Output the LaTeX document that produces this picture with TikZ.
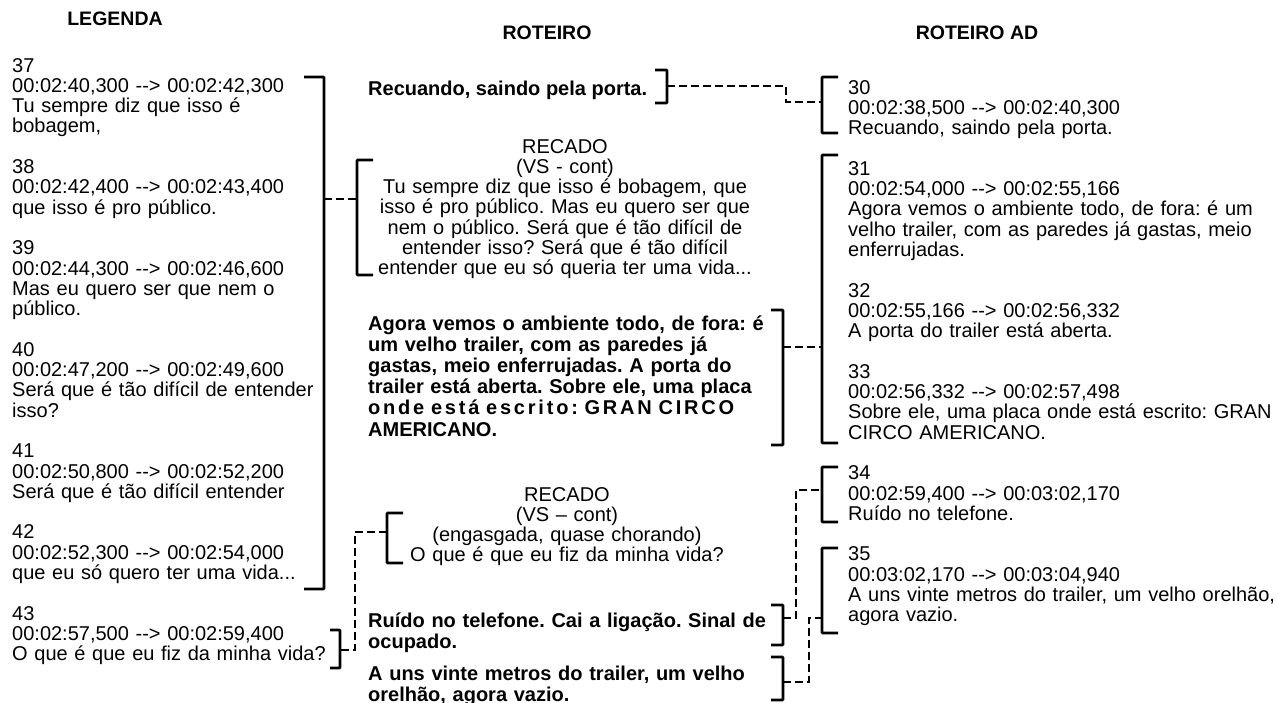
\documentclass[tikz,border=0pt]{standalone}
\usepackage{fontspec}
\setmainfont{Liberation Sans}[Ligatures=TeXOff]
\usetikzlibrary{positioning}

\newcommand\fs{\fontsize{20}{20.3}\selectfont\frenchspacing}
\newcommand\gap{\\[20.3pt]}
\newcommand\jl[1]{\makebox[\linewidth][s]{#1}}
% [ opens to the right, ] opens to the left; last argument is where the connector meets it
\newcommand\lbrk[6][16]{\draw[brk] (#3+#1,#4) -- (#3,#4) -- (#3,#5) -- (#3+#1,#5); \coordinate (#2) at (#3,#6);}
\newcommand\rbrk[6][12]{\draw[brk] (#3-#1,#4) -- (#3,#4) -- (#3,#5) -- (#3-#1,#5); \coordinate (#2) at (#3,#6);}

\begin{document}
\begin{tikzpicture}[x=1pt,y=-1pt,
  txt/.style={anchor=base west,align=left,inner sep=0pt,text width=430pt,font=\fs},
  ctr/.style={anchor=base,align=center,inner sep=0pt,text width=400pt,font=\fs},
  bld/.style={anchor=base west,inner sep=0pt,text width=396pt,font=\fontsize{20}{21.2}\selectfont\bfseries\frenchspacing},
  head/.style={anchor=base,inner sep=0pt,font=\fontsize{19.5}{20}\selectfont\bfseries},
  brk/.style={line width=2.6pt,rounded corners=0.8pt},
  conn/.style={line width=2.4pt,dash pattern=on 8pt off 4pt}]
\useasboundingbox (0,0) rectangle (1278,702);

% column heads
\node[head] (hleg) at (115,25) {LEGENDA};
\node[head] (hrot) at (547,39) {ROTEIRO};
\node[head] (had) at (977,39) {ROTEIRO AD};

% subtitles
\node[txt,text width=320pt] (leg) at (12,72) {37\\00:02:40,300 --> 00:02:42,300\\Tu sempre diz que isso é\\bobagem,\gap
38\\00:02:42,400 --> 00:02:43,400\\que isso é pro público.\gap
39\\00:02:44,300 --> 00:02:46,600\\Mas eu quero ser que nem o\\público.\gap
40\\00:02:47,200 --> 00:02:49,600\\Será que é tão difícil de entender\\isso?\gap
41\\00:02:50,800 --> 00:02:52,200\\Será que é tão difícil entender\gap
42\\00:02:52,300 --> 00:02:54,000\\que eu só quero ter uma vida...\gap
43\\00:02:57,500 --> 00:02:59,400\\O que é que eu fiz da minha vida?};

% audio description
\node[txt] (ad) at (848,94) {30\\00:02:38,500 --> 00:02:40,300\\Recuando, saindo pela porta.\gap
31\\00:02:54,000 --> 00:02:55,166\\Agora vemos o ambiente todo, de fora: é um\\velho trailer, com as paredes já gastas, meio\\enferrujadas.\gap
32\\00:02:55,166 --> 00:02:56,332\\A porta do trailer está aberta.\gap
33\\00:02:56,332 --> 00:02:57,498\\Sobre ele, uma placa onde está escrito: GRAN\\CIRCO AMERICANO.\gap
34\\00:02:59,400 --> 00:03:02,170\\Ruído no telefone.\gap
35\\00:03:02,170 --> 00:03:04,940\\A uns vinte metros do trailer, um velho orelhão,\\agora vazio.};

% script
\node[anchor=base west,inner sep=0pt,font=\fs\bfseries] (rec) at (368,95) {Recuando, saindo pela porta.};
\node[ctr] (rcd1) at (565,153) {RECADO\\(VS - cont)\\Tu sempre diz que isso é bobagem, que\\isso é pro público. Mas eu quero ser que\\nem o público. Será que é tão difícil de\\entender isso? Será que é tão difícil\\entender que eu só queria ter uma vida...};
\node[bld] (ago) at (368,330) {\jl{Agora vemos o ambiente todo, de fora: é}\\\jl{um velho trailer, com as paredes já}\\\jl{gastas, meio enferrujadas. A porta do}\\\jl{trailer está aberta. Sobre ele, uma placa}\\\jl{\addfontfeature{LetterSpace=14}onde está escrito: GRAN CIRCO}\\AMERICANO.};
\node[ctr] (rcd2) at (567,501) {RECADO\\(VS – cont)\\(engasgada, quase chorando)\\O que é que eu fiz da minha vida?};
\node[bld] (rui) at (368,627) {\jl{Ruído no telefone. Cai a ligação. Sinal de}\\ocupado.};
\node[bld] (uns) at (368,680) {\jl{A uns vinte metros do trailer, um velho}\\orelhão, agora vazio.};

% brackets
\rbrk[20]{bLeg}{324}{77}{589}{199}
\lbrk{bRcd1}{357}{160}{275}{199}
\rbrk{bRec}{667}{70}{103}{86}
\lbrk{bAd30}{822}{77}{133}{102}
\rbrk{bAgo}{783}{310}{445}{347}
\lbrk{bAd31}{822}{155}{443}{347}
\lbrk{bRcd2}{387}{513}{563}{532}
\rbrk[10]{bL43}{340}{630}{668}{650}
\rbrk{bRui}{783}{605}{645}{618}
\lbrk{bAd34}{822}{467}{522}{490}
\rbrk{bUns}{783}{657}{700}{682}
\lbrk{bAd35}{822}{548}{633}{618}

% links
\draw[conn] (bLeg) -- (bRcd1);
\draw[conn] (bRec) -- ++(119,0) |- (bAd30);
\draw[conn] (bAgo) -- (bAd31);
\draw[conn] (bRcd2) -- ++(-32,0) |- (bL43);
\draw[conn] (bRui) -- ++(13,0) |- (bAd34);
\draw[conn] (bUns) -- ++(26,0) |- (bAd35);
\end{tikzpicture}
\end{document}
